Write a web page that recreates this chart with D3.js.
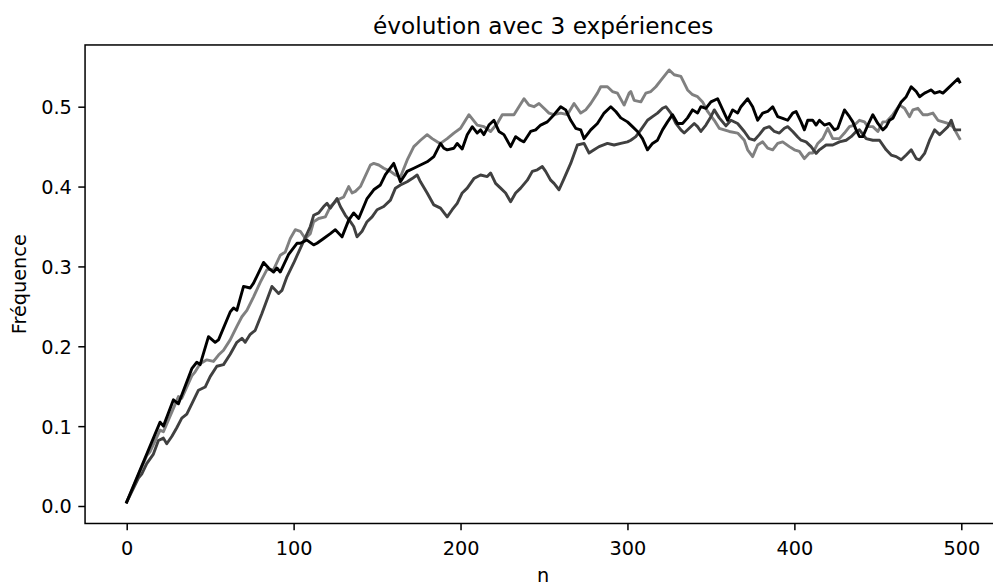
<!DOCTYPE html>
<html><head><meta charset="utf-8">
<script src="https://cdn.jsdelivr.net/npm/d3@7"></script>
<style>
html,body{margin:0;padding:0;background:#fff;}
svg{display:block;font-family:"DejaVu Sans",sans-serif;}
</style></head>
<body>
<svg id="chart" width="993" height="586"></svg>
<script>
const title = "évolution avec 3 expériences";
const xLabel = "n";
const yLabel = "Fréquence";
const xTicks = [0, 100, 200, 300, 400, 500];
const yTicks = [0.0, 0.1, 0.2, 0.3, 0.4, 0.5];
const seriesNames = ["exp1", "exp2", "exp3"];
const seriesColors = ["#000000", "#404040", "#808080"];

// experience 1 (black) : [n, frequence]
const exp1 = [[0,0.005],[20,0.105],[22,0.1],[28,0.133],[31,0.128],[39,0.172],[42,0.18],[44,0.177],[49,0.212],[53,0.205],[55,0.208],[62,0.243],[64,0.248],[66,0.245],[70,0.275],[74,0.273],[76,0.279],[82,0.305],[85,0.298],[88,0.293],[90,0.298],[92,0.293],[97,0.315],[102,0.329],[104,0.329],[108,0.333],[112,0.327],[114,0.329],[118,0.335],[122,0.341],[125,0.346],[129,0.337],[133,0.358],[136,0.367],[139,0.36],[144,0.385],[148,0.396],[152,0.402],[155,0.415],[160,0.429],[164,0.406],[168,0.419],[172,0.423],[176,0.427],[180,0.431],[184,0.4375],[188,0.454],[190,0.448],[192,0.446],[196,0.448],[198,0.454],[201,0.447],[204,0.465],[207,0.475],[210,0.467],[212,0.471],[214,0.465],[217,0.477],[220,0.483],[223,0.469],[226,0.465],[230,0.45],[233,0.4625],[236,0.458],[238,0.456],[242,0.469],[245,0.471],[248,0.477],[252,0.481],[256,0.49],[260,0.5],[263,0.496],[266,0.483],[269,0.473],[272,0.471],[274,0.46],[278,0.471],[282,0.479],[286,0.492],[290,0.5],[293,0.494],[296,0.486],[300,0.481],[303,0.475],[306,0.469],[309,0.46],[312,0.446],[315,0.454],[318,0.458],[321,0.471],[324,0.481],[327,0.49],[330,0.479],[333,0.479],[336,0.486],[339,0.496],[342,0.492],[344,0.5],[347,0.498],[350,0.506],[354,0.51],[360,0.483],[363,0.496],[366,0.492],[368,0.5],[372,0.51],[375,0.5],[378,0.483],[381,0.492],[384,0.494],[387,0.5],[390,0.4875],[393,0.4855],[396,0.483],[399,0.492],[401,0.494],[404,0.481],[406,0.471],[408,0.483],[411,0.483],[413,0.477],[415,0.483],[418,0.477],[421,0.479],[424,0.471],[426,0.473],[430,0.496],[433,0.4875],[435,0.481],[437,0.471],[439,0.4625],[441,0.4625],[444,0.477],[447,0.49],[450,0.479],[453,0.471],[455,0.475],[457,0.483],[459,0.4855],[461,0.494],[464,0.506],[467,0.5125],[470,0.525],[473,0.519],[475,0.5125],[478,0.517],[480,0.519],[482,0.521],[484,0.517],[487,0.519],[489,0.517],[492,0.523],[495,0.529],[498,0.535],[499,0.531]];

// experience 2 (dark grey)
const exp2 = [[0,0.005],[7,0.035],[9,0.04],[12,0.053],[16,0.065],[19,0.082],[22,0.085],[24,0.078],[27,0.087],[30,0.098],[33,0.11],[36,0.115],[39,0.128],[43,0.145],[47,0.149],[50,0.162],[54,0.175],[58,0.177],[62,0.19],[66,0.205],[69,0.21],[71,0.205],[74,0.215],[77,0.22],[81,0.241],[84,0.258],[87,0.275],[91,0.266],[93,0.27],[96,0.287],[100,0.304],[103,0.318],[110,0.35],[112,0.364],[115,0.367],[118,0.375],[120,0.379],[122,0.373],[124,0.379],[126,0.385],[128,0.375],[131,0.364],[134,0.356],[136,0.35],[138,0.337],[141,0.344],[144,0.356],[147,0.362],[150,0.371],[154,0.375],[158,0.383],[161,0.398],[164,0.402],[168,0.406],[171,0.41],[174,0.4145],[176,0.406],[180,0.392],[184,0.377],[188,0.373],[192,0.362],[195,0.371],[198,0.379],[201,0.392],[204,0.398],[208,0.41],[212,0.4145],[216,0.4125],[218,0.417],[221,0.404],[224,0.398],[227,0.392],[230,0.381],[233,0.392],[236,0.398],[240,0.408],[243,0.419],[246,0.421],[249,0.425],[251,0.419],[254,0.408],[256,0.404],[259,0.396],[262,0.41],[266,0.429],[270,0.452],[274,0.454],[277,0.442],[280,0.446],[283,0.45],[288,0.454],[292,0.452],[296,0.454],[300,0.456],[302,0.458],[305,0.4625],[308,0.471],[312,0.483],[315,0.4875],[318,0.492],[321,0.498],[323,0.5],[326,0.492],[329,0.479],[332,0.471],[334,0.467],[337,0.473],[340,0.479],[342,0.475],[344,0.469],[347,0.477],[350,0.4875],[352,0.496],[355,0.486],[359,0.476],[362,0.483],[366,0.479],[370,0.469],[373,0.46],[376,0.458],[379,0.465],[382,0.473],[385,0.475],[388,0.469],[391,0.467],[394,0.473],[396,0.475],[399,0.469],[402,0.462],[404,0.458],[407,0.456],[410,0.45],[413,0.4415],[415,0.446],[419,0.452],[423,0.452],[427,0.456],[431,0.458],[434,0.4625],[437,0.469],[439,0.471],[443,0.46],[447,0.458],[451,0.458],[455,0.446],[458,0.4395],[461,0.4375],[464,0.4335],[467,0.4395],[470,0.446],[473,0.435],[475,0.4335],[478,0.4415],[481,0.458],[484,0.471],[487,0.465],[489,0.469],[492,0.475],[494,0.483],[496,0.471],[499,0.471]];

// experience 3 (grey)
const exp3 = [[0,0.005],[12,0.063],[14,0.068],[20,0.095],[22,0.093],[31,0.137],[33,0.135],[39,0.163],[41,0.168],[44,0.178],[48,0.183],[52,0.181],[55,0.189],[58,0.195],[62,0.208],[66,0.225],[69,0.237],[72,0.245],[76,0.262],[80,0.28],[84,0.296],[88,0.296],[92,0.314],[95,0.318],[98,0.335],[101,0.346],[104,0.344],[107,0.335],[110,0.341],[112,0.356],[115,0.36],[119,0.362],[122,0.375],[126,0.383],[130,0.387],[133,0.4],[135,0.392],[137,0.394],[140,0.4],[146,0.427],[148,0.429],[151,0.427],[154,0.423],[158,0.419],[161,0.4145],[164,0.412],[168,0.433],[172,0.45],[174,0.454],[176,0.458],[180,0.465],[183,0.46],[186,0.456],[188,0.454],[192,0.46],[196,0.467],[200,0.473],[205,0.49],[210,0.477],[214,0.475],[218,0.469],[222,0.479],[225,0.49],[232,0.49],[235,0.5],[238,0.51],[241,0.502],[244,0.5],[247,0.504],[250,0.498],[253,0.492],[256,0.49],[260,0.492],[264,0.49],[268,0.504],[272,0.492],[275,0.496],[278,0.504],[282,0.517],[284,0.525],[288,0.525],[291,0.519],[294,0.517],[298,0.502],[301,0.517],[302,0.519],[304,0.508],[308,0.506],[311,0.517],[314,0.519],[317,0.525],[320,0.533],[325,0.546],[328,0.54],[332,0.538],[336,0.521],[339,0.515],[342,0.5125],[345,0.506],[348,0.494],[352,0.483],[355,0.473],[358,0.471],[361,0.469],[366,0.467],[370,0.458],[372,0.446],[375,0.4375],[378,0.452],[381,0.456],[384,0.448],[387,0.446],[390,0.454],[393,0.456],[397,0.45],[400,0.446],[403,0.444],[406,0.435],[409,0.442],[411,0.442],[414,0.454],[417,0.46],[420,0.473],[423,0.46],[427,0.46],[430,0.467],[433,0.475],[436,0.477],[439,0.483],[442,0.481],[444,0.475],[447,0.475],[450,0.469],[453,0.481],[455,0.481],[459,0.49],[463,0.502],[466,0.498],[469,0.4875],[471,0.496],[474,0.498],[477,0.49],[480,0.49],[483,0.492],[486,0.483],[489,0.481],[492,0.479],[495,0.475],[499,0.46]];

const series = [exp1, exp2, exp3];

(function draw() {
  const svg = d3.select("#chart");
  const x = d3.scaleLinear().domain([0, 500]).range([126.7, 961.3]);
  const y = d3.scaleLinear().domain([0, 0.5]).range([506, 106.7]);
  const xMin = -24.95, xMax = 523.95;
  const yMin = -0.0219, yMax = 0.5773;
  const axL = x(xMin), axR = x(xMax), axT = y(yMax), axB = y(yMin);

  const lineGen = d3.line().x(d => x(d[0])).y(d => y(d[1]));
  const plot = svg.append("g");
  [2, 1, 0].forEach(i => {
    plot.append("path")
      .datum(series[i])
      .attr("fill", "none")
      .attr("stroke", seriesColors[i])
      .attr("stroke-width", 2.9)
      .attr("stroke-linejoin", "round")
      .attr("stroke-linecap", "square")
      .attr("d", lineGen);
  });

  svg.append("rect").attr("x", axL).attr("y", axT).attr("width", axR - axL).attr("height", axB - axT)
    .attr("fill", "none").attr("stroke", "#000").attr("stroke-width", 1.5);

  const xAxis = d3.axisBottom(x).tickValues(xTicks).tickSize(6.75).tickPadding(5).tickFormat(d3.format("d"));
  const gx = svg.append("g").attr("transform", `translate(0,${axB})`).call(xAxis);
  gx.select(".domain").remove();
  gx.selectAll("line").attr("stroke-width", 1.5);
  gx.selectAll("text").attr("font-size", 19.3).attr("font-family", "DejaVu Sans").attr("fill", "#000")
    .attr("dy", null).attr("y", 555 - axB);

  const yAxis = d3.axisLeft(y).tickValues(yTicks).tickSize(6.75).tickPadding(6.5).tickFormat(d3.format(".1f"));
  const gy = svg.append("g").attr("transform", `translate(${axL},0)`).call(yAxis);
  gy.select(".domain").remove();
  gy.selectAll("line").attr("stroke-width", 1.5);
  gy.selectAll("text").attr("font-size", 19.3).attr("font-family", "DejaVu Sans").attr("fill", "#000").attr("dy", "0.36em");

  svg.append("text").attr("x", (axL + axR) / 2).attr("y", 33.5).attr("text-anchor", "middle")
    .attr("font-size", 23.2).attr("fill", "#000").text(title);
  svg.append("text").attr("x", (axL + axR) / 2).attr("y", 582).attr("text-anchor", "middle")
    .attr("font-size", 19.3).attr("fill", "#000").text(xLabel);
  svg.append("text").attr("transform", `translate(25.5,${(axT + axB) / 2}) rotate(-90)`).attr("text-anchor", "middle")
    .attr("font-size", 19.3).attr("fill", "#000").text(yLabel);
})();
</script>
</body></html>
